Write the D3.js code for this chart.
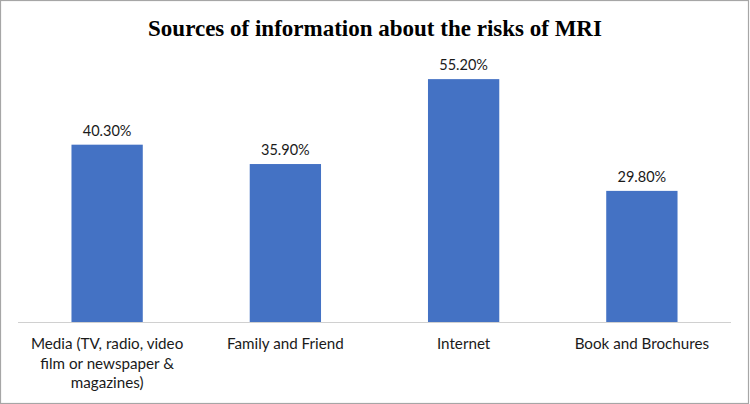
<!DOCTYPE html>
<html>
<head>
<meta charset="utf-8">
<script src="https://cdn.jsdelivr.net/npm/d3@7"></script>
<style>
  html, body { margin: 0; padding: 0; background: #fff; }
  svg { display: block; }
</style>
</head>
<body>
<svg id="chart" width="750" height="404"></svg>
<script>
const title = "Sources of information about the risks of MRI";
const categories = [
  "Media (TV, radio, video film or newspaper & magazines)",
  "Family and Friend",
  "Internet",
  "Book and Brochures"
];
const values = [40.3, 35.9, 55.2, 29.8];
const valueLabels = ["40.30%", "35.90%", "55.20%", "29.80%"];
const yDomain = [0, 60];

const W = 750, H = 404;
const margin = { left: 18, right: 19, top: 58, bottom: 82 };
const svg = d3.select("#chart");

// outer border
svg.append("rect")
  .attr("x", 0.5).attr("y", 0.5)
  .attr("width", W - 2).attr("height", H - 1)
  .attr("fill", "#fff").attr("stroke", "#a6a6a6").attr("stroke-width", 1.2);

const x = d3.scaleBand()
  .domain(categories)
  .range([margin.left, W - margin.right])
  .paddingInner(0.6)
  .paddingOuter(0.3);

const y = d3.scaleLinear()
  .domain(yDomain)
  .range([H - margin.bottom, margin.top]);

// title
svg.append("text")
  .attr("x", W / 2).attr("y", 36)
  .attr("text-anchor", "middle")
  .attr("font-family", "'Liberation Serif', 'Times New Roman', serif")
  .attr("font-weight", "bold")
  .attr("font-size", 23)
  .attr("fill", "#000")
  .text(title);

// bars
svg.append("g").selectAll("rect")
  .data(categories)
  .join("rect")
  .attr("x", d => x(d))
  .attr("width", x.bandwidth())
  .attr("y", (d, i) => y(values[i]))
  .attr("height", (d, i) => y(0) - y(values[i]))
  .attr("fill", "#4472C4");

// value labels
svg.append("g").selectAll("text")
  .data(categories)
  .join("text")
  .attr("x", d => x(d) + x.bandwidth() / 2)
  .attr("y", (d, i) => y(values[i]) - 9)
  .attr("text-anchor", "middle")
  .attr("font-family", "Lato, 'Open Sans', sans-serif")
  .attr("font-size", 14.5)
  .attr("fill", "#1a1a1a")
  .text((d, i) => valueLabels[i]);

// x axis
const axis = svg.append("g")
  .attr("transform", `translate(0,${y(0)})`)
  .call(d3.axisBottom(x).tickSize(0).tickPadding(0));
axis.select(".domain").attr("stroke", "#d0d0d0").attr("stroke-width", 1.2)
  .attr("d", `M${margin.left},0.5H${W - margin.right}`);
axis.selectAll(".tick text")
  .attr("font-family", "Lato, 'Open Sans', sans-serif")
  .attr("font-size", 15.2)
  .attr("fill", "#1a1a1a")
  .call(wrap, 164);

function wrap(sel, width) {
  sel.each(function() {
    const t = d3.select(this);
    const words = t.text().split(/\s+/);
    t.text(null).attr("dy", null).attr("y", null);
    let line = [];
    let lineNo = 0;
    let tspan = t.append("tspan").attr("x", 0).attr("y", 27);
    for (const w of words) {
      line.push(w);
      tspan.text(line.join(" "));
      if (tspan.node().getComputedTextLength() > width && line.length > 1) {
        line.pop();
        tspan.text(line.join(" "));
        line = [w];
        lineNo++;
        tspan = t.append("tspan").attr("x", 0).attr("y", 27 + lineNo * 19.5).text(w);
      }
    }
  });
}
</script>
</body>
</html>
